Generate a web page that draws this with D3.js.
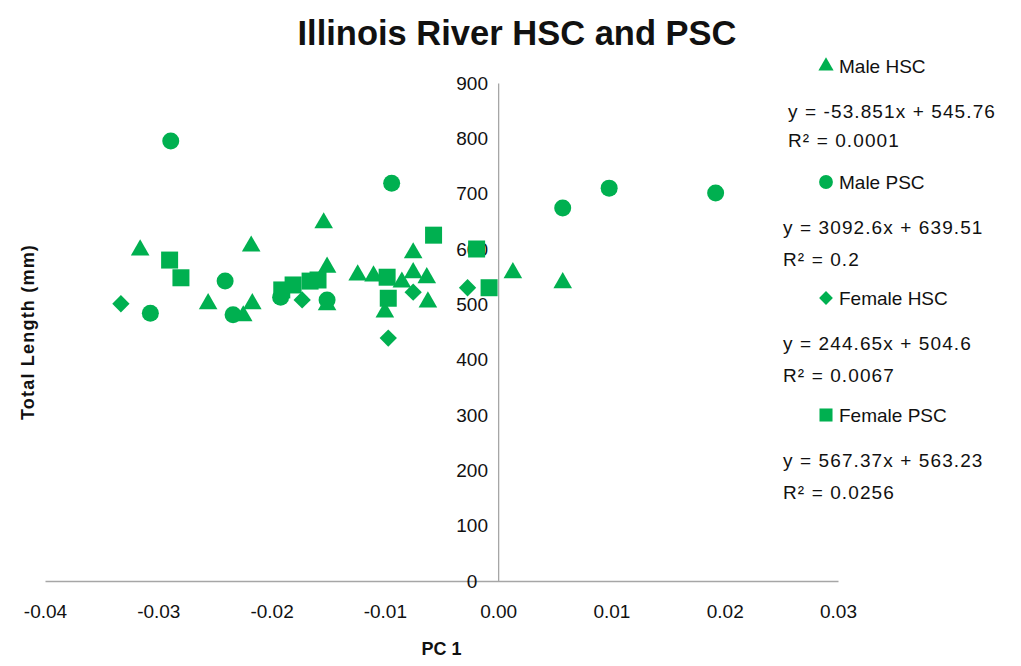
<!DOCTYPE html>
<html>
<head>
<meta charset="utf-8">
<script src="https://cdn.jsdelivr.net/npm/d3@7"></script>
<style>
  body { margin: 0; background: #fff; }
  svg text { font-family: "Liberation Sans", Arial, sans-serif; fill: #111; }
</style>
</head>
<body>
<div id="chart"></div>
<script>
// values
var maleHscX = [-0.0316, -0.0256, -0.0218, -0.0217, -0.0225, -0.0154, -0.0151, -0.0151, -0.0124, -0.0110, -0.0100, -0.0085, -0.0075, -0.0075, -0.0063, -0.0062, 0.0013, 0.0057];
var maleHscY = [598, 501, 605, 501, 479, 647, 567, 499, 553, 551, 486, 540, 593, 557, 548, 504, 557, 539];

var malePscX = [-0.0289, -0.0094, -0.0241, -0.0307, -0.0234, -0.0151, -0.0192, 0.0057, 0.0098, 0.0192];
var malePscY = [795, 719, 542, 484, 481, 508, 513, 674, 710, 701];

var femaleHscX = [-0.0333, -0.0173, -0.0097, -0.0075, -0.0027];
var femaleHscY = [501, 508, 439, 522, 530];

var femalePscX = [-0.0290, -0.0280, -0.0191, -0.0181, -0.0166, -0.0159, -0.0098, -0.0097, -0.0057, -0.0019, -0.0008];
var femalePscY = [580, 548, 526, 535, 542, 544, 549, 511, 625, 600, 530];

var seriesNames = ["Male HSC", "Male PSC", "Female HSC", "Female PSC"];
var equations = ["y = -53.851x + 545.76", "y = 3092.6x + 639.51", "y = 244.65x + 504.6", "y = 567.37x + 563.23"];
var rSquared = ["R\u00b2 = 0.0001", "R\u00b2 = 0.2", "R\u00b2 = 0.0067", "R\u00b2 = 0.0256"];

var xTicks = [-0.04, -0.03, -0.02, -0.01, 0, 0.01, 0.02, 0.03];
var yTicks = [0, 100, 200, 300, 400, 500, 600, 700, 800, 900];

var width = 1021, height = 666;
var margin = {top: 83, right: 183, bottom: 85, left: 45};
var green = "#00b050";

var svg = d3.select("#chart").append("svg")
  .attr("width", width)
  .attr("height", height);

var x = d3.scaleLinear().domain([-0.04, 0.03]).range([margin.left, width - margin.right]);
var y = d3.scaleLinear().domain([0, 900]).range([height - margin.bottom, margin.top]);

var fmt = d3.format(".2f");

// axes cross at zero
var xAxis = d3.axisBottom(x).tickValues(xTicks).tickSize(0)
  .tickFormat(function(d) { return fmt(d).replace("\u2212", "-"); });
var yAxis = d3.axisLeft(y).tickValues(yTicks).tickSize(0);

var gx = svg.append("g").attr("transform", "translate(0," + y(0) + ")").call(xAxis);
gx.select(".domain").attr("stroke", "#a6a6a6").attr("stroke-width", 1.3);
gx.selectAll("text").attr("y", 24).style("font-size", "19px");

var gy = svg.append("g").attr("transform", "translate(" + x(0) + ",0)").call(yAxis);
gy.select(".domain").attr("stroke", "#a6a6a6").attr("stroke-width", 1.3);
gy.selectAll("text").attr("text-anchor", "middle").attr("x", -26).style("font-size", "19px");

// symbols
var shapes = [d3.symbolTriangle, d3.symbolCircle, d3.symbolSquare, d3.symbolSquare];
var sizes = [150, 227, 150, 289];
var angles = [0, 0, 45, 0];
var pointSets = [
  d3.zip(maleHscX, maleHscY),
  d3.zip(malePscX, malePscY),
  d3.zip(femaleHscX, femaleHscY),
  d3.zip(femalePscX, femalePscY)
];

pointSets.forEach(function(pts, i) {
  svg.append("g").selectAll("path")
    .data(pts)
    .enter().append("path")
      .attr("d", d3.symbol().type(shapes[i]).size(sizes[i]))
      .attr("transform", function(d) {
        return "translate(" + x(d[0]) + "," + y(d[1]) + ") rotate(" + angles[i] + ")";
      })
      .attr("fill", green);
});

// title
svg.append("text")
  .attr("x", 517).attr("y", 45)
  .attr("text-anchor", "middle")
  .style("font-size", "34.5px").style("font-weight", "bold")
  .text("Illinois River HSC and PSC");

// axis titles
svg.append("text")
  .attr("x", (margin.left + width - margin.right) / 2).attr("y", 655)
  .attr("text-anchor", "middle")
  .style("font-size", "18px").style("font-weight", "bold")
  .text("PC 1");

svg.append("text")
  .attr("transform", "translate(34," + ((margin.top + height - margin.bottom) / 2) + ") rotate(-90)")
  .attr("text-anchor", "middle")
  .style("font-size", "18px").style("font-weight", "bold").style("letter-spacing", "1.2px")
  .text("Total Length (mm)");

// legend with trendline equations
var legendY = [66, 182, 298, 415];
var eqX = [788, 783, 783, 783];
var legendSizes = [100, 150, 95, 170];

var legend = svg.append("g");
seriesNames.forEach(function(name, i) {
  legend.append("path")
    .attr("d", d3.symbol().type(shapes[i]).size(legendSizes[i]))
    .attr("transform", "translate(826," + legendY[i] + ") rotate(" + angles[i] + ")")
    .attr("fill", green);
  legend.append("text")
    .attr("x", 839).attr("y", legendY[i] + 7)
    .style("font-size", "19px")
    .text(name);
  legend.append("text")
    .attr("x", eqX[i]).attr("y", legendY[i] + 52)
    .style("font-size", "19px").style("letter-spacing", "1.1px")
    .text(equations[i]);
  legend.append("text")
    .attr("x", eqX[i]).attr("y", legendY[i] + (i === 0 ? 81 : 84))
    .style("font-size", "19px").style("letter-spacing", "1.1px")
    .text(rSquared[i]);
});
</script>
</body>
</html>
